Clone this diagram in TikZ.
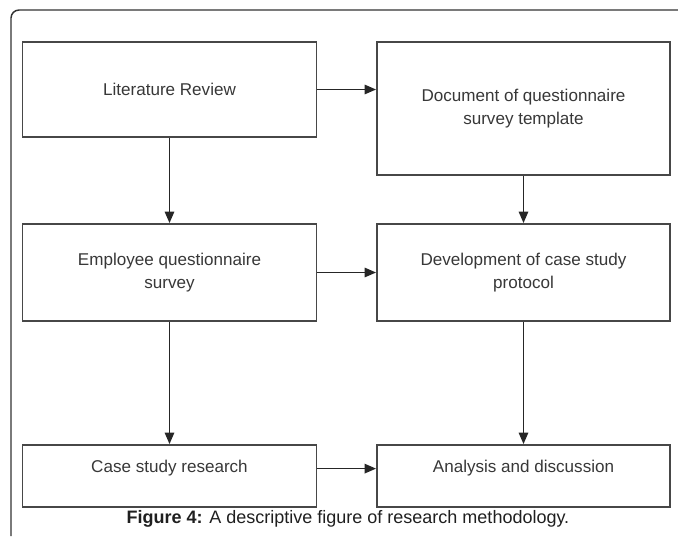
\documentclass[tikz,border=0pt]{standalone}
\usepackage{fontspec}
\setmainfont{Liberation Sans}
\usetikzlibrary{arrows.meta}

\tikzset{
  caja/.style={draw=black!72, line width=1.4pt, fill=white, align=center,
    inner sep=0pt, font=\fontsize{12.8}{17.5}\selectfont, text=black!78},
  flecha/.style={-{Triangle[length=8.5pt, width=7pt]}, line width=1.2pt, black!85}
}

\begin{document}
\begin{tikzpicture}[x=0.75pt, y=-0.75pt]
    % Limites de la figura
    \useasboundingbox (0,0) rectangle (678,536);
    \draw[black!80, line width=1.1pt, rounded corners=6pt] (11,536) |- (678,10);

    % Cajas de la columna izquierda
    \node[caja, minimum width=220.5pt, minimum height=71.25pt] (lit) at (169.5,89.5) {Literature Review};
    \node[caja, minimum width=220.5pt, minimum height=72.75pt] (emp) at (169.5,272.5) {Employee questionnaire\\survey};
    \node[caja, minimum width=220.5pt, minimum height=46.5pt, text height=9.5pt, text depth=15.3pt] (case) at (169.5,476) {Case study research};

    % Cajas de la columna derecha
    \node[caja, minimum width=219.75pt, minimum height=99.75pt] (doc) at (523.5,108.5) {Document of questionnaire\\survey template};
    \node[caja, minimum width=219.75pt, minimum height=72.75pt] (dev) at (523.5,272.5) {Development of case study\\protocol};
    \node[caja, minimum width=219.75pt, minimum height=46.5pt, text height=9.5pt, text depth=15.3pt] (ana) at (523.5,476) {Analysis and discussion};

    % Flechas horizontales
    \draw[flecha] (lit.east) -- (lit.east -| doc.west);
    \draw[flecha] (emp.east) -- (dev.west);
    \draw[flecha] (case.mid east) -- (case.mid east -| ana.west);

    % Flechas verticales
    \draw[flecha] (lit.south) -- (emp.north);
    \draw[flecha] (emp.south) -- (case.north);
    \draw[flecha] (doc.south) -- (dev.north);
    \draw[flecha] (dev.south) -- (ana.north);

    % Pie de figura
    \node[font=\fontsize{13.5}{16}\selectfont, text=black!88] (pie) at (348,519) {\textbf{Figure 4:} A descriptive figure of research methodology.};
\end{tikzpicture}
\end{document}
